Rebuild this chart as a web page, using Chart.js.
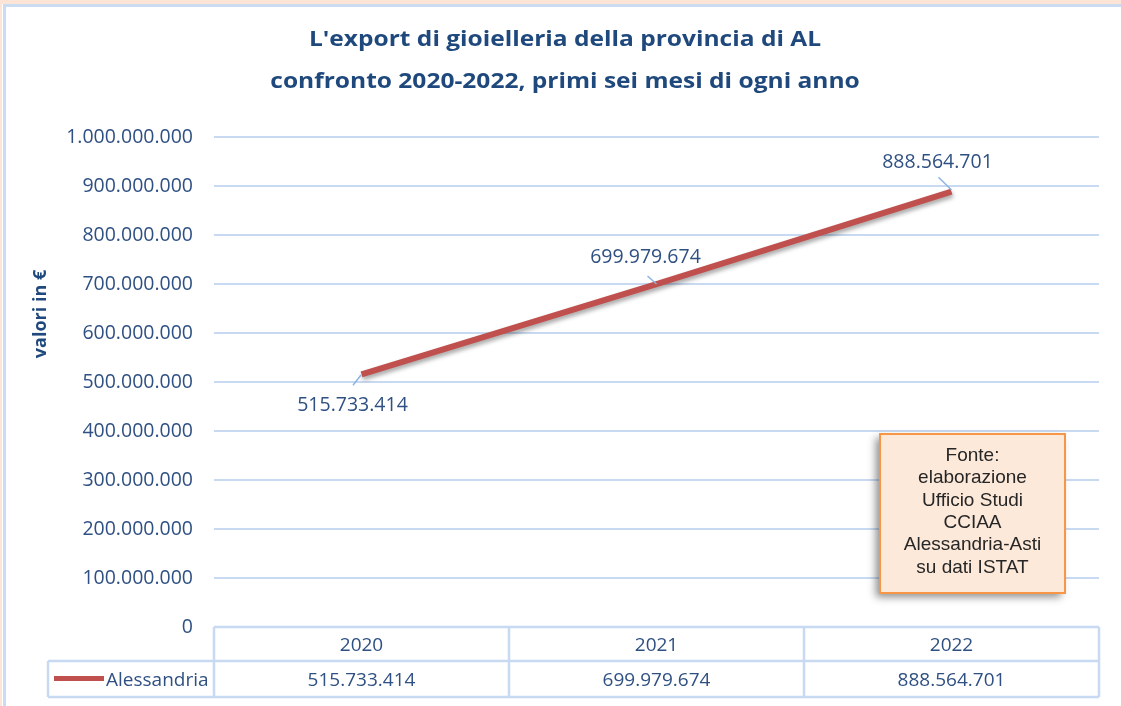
<!DOCTYPE html>
<html>
<head>
<meta charset="utf-8">
<script src="https://cdn.jsdelivr.net/npm/chart.js"></script>
<style>
html,body{margin:0;padding:0;background:#fff;overflow:hidden;}
#wrap{width:1121px;height:706px;position:relative;}
canvas{display:block;}
</style>
</head>
<body>
<div id="wrap"><canvas id="c" width="1121" height="706"></canvas></div>
<script>
// ---- data ----
const categories = ['2020', '2021', '2022'];
const seriesName = 'Alessandria';
const seriesValues = [515733414, 699979674, 888564701];
const yMin = 0;
const yMax = 1000000000;
const yStep = 100000000;
const titleLines = ["L'export di gioielleria della provincia di AL", "confronto 2020-2022, primi sei mesi di ogni anno"];
const yAxisTitle = 'valori in €';
const sourceNote = ['Fonte:', 'elaborazione', 'Ufficio Studi', 'CCIAA', 'Alessandria-Asti', 'su dati ISTAT'];

// ---- styling ----
const fmt = n => String(n).replace(/\B(?=(\d{3})+(?!\d))/g, '.');
const TITLE_COLOR = '#1F497D';
const TEXT_COLOR = '#2F5082';
const GRID_COLOR = '#C8DAF1';
const LINE_COLOR = '#C0504D';
const LEADER_COLOR = '#8DB3E2';
const TXT_FONT = '"Open Sans", "Liberation Sans", sans-serif';
// label placements relative to each point: [dx center, dy baseline, leader x1, y1, x2, y2]
const labelPlacement = [
  [-9, 37, -8.5, 11, -0.5, 0.7],
  [-11, -21, -9, -8, 0, 0],
  [-14, -23.5, -13, -14.3, 0, -1.6]
];

const decorPlugin = {
  id: 'decor',
  beforeDraw(chart) {
    const ctx = chart.ctx;
    ctx.save();
    ctx.fillStyle = '#ffffff';
    ctx.fillRect(0, 0, 1121, 706);
    ctx.fillStyle = '#FCE4D6';
    ctx.fillRect(0, 0, 1121, 4);
    ctx.fillRect(0, 0, 2, 706);
    ctx.fillStyle = '#CADCF2';
    ctx.fillRect(3, 4, 1118, 3);
    ctx.fillRect(3, 4, 3, 702);

    // title
    ctx.fillStyle = TITLE_COLOR;
    ctx.font = 'bold 22px ' + TXT_FONT;
    ctx.textAlign = 'center';
    ctx.textBaseline = 'alphabetic';
    const baselines = [46, 88];
    titleLines.forEach((t, i) => {
      ctx.save();
      ctx.translate(565, baselines[i]);
      ctx.scale(1.115, 1);
      ctx.fillText(t, 0, 0);
      ctx.restore();
    });

    // y axis title
    ctx.save();
    ctx.translate(46, 314);
    ctx.rotate(-Math.PI / 2);
    ctx.font = 'bold 18px ' + TXT_FONT;
    ctx.fillStyle = TITLE_COLOR;
    ctx.textAlign = 'center';
    ctx.textBaseline = 'alphabetic';
    ctx.fillText(yAxisTitle, 0, 0);
    ctx.restore();
    ctx.restore();
  },
  beforeDatasetDraw(chart) {
    const ctx = chart.ctx;
    ctx.save();
    ctx.shadowColor = 'rgba(0,0,0,0.35)';
    ctx.shadowBlur = 4;
    ctx.shadowOffsetX = 1;
    ctx.shadowOffsetY = 3;
  },
  afterDatasetDraw(chart) {
    chart.ctx.restore();
  },
  afterDatasetsDraw(chart) {
    const ctx = chart.ctx;
    const meta = chart.getDatasetMeta(0);
    ctx.save();
    meta.data.forEach((pt, i) => {
      const p = labelPlacement[i];
      ctx.strokeStyle = LEADER_COLOR;
      ctx.lineWidth = 1.5;
      ctx.beginPath();
      ctx.moveTo(pt.x + p[2], pt.y + p[3]);
      ctx.lineTo(pt.x + p[4], pt.y + p[5]);
      ctx.stroke();
      ctx.fillStyle = TEXT_COLOR;
      ctx.font = '19.5px ' + TXT_FONT;
      ctx.textAlign = 'center';
      ctx.textBaseline = 'alphabetic';
      ctx.fillText(fmt(seriesValues[i]), pt.x + p[0], pt.y + p[1]);
    });
    ctx.restore();
  },
  afterDraw(chart) {
    const ctx = chart.ctx;
    const xs = chart.scales.x;
    const area = chart.chartArea;
    ctx.save();
    // data table
    const top = area.bottom;
    const mid = top + 34;
    const bot = top + 70;
    const legLeft = 48;
    const n = categories.length;
    const colW = (area.right - area.left) / n;
    ctx.strokeStyle = GRID_COLOR;
    ctx.lineWidth = 2.5;
    ctx.beginPath();
    ctx.moveTo(area.left, top); ctx.lineTo(area.right, top);
    ctx.moveTo(legLeft, mid); ctx.lineTo(area.right, mid);
    ctx.moveTo(legLeft, bot); ctx.lineTo(area.right, bot);
    ctx.moveTo(legLeft, mid); ctx.lineTo(legLeft, bot);
    for (let i = 0; i <= n; i++) {
      const x = area.left + i * colW;
      ctx.moveTo(x, top); ctx.lineTo(x, bot);
    }
    ctx.stroke();

    ctx.fillStyle = TEXT_COLOR;
    ctx.font = '19px ' + TXT_FONT;
    ctx.textAlign = 'center';
    ctx.textBaseline = 'alphabetic';
    categories.forEach((c, i) => {
      const x = xs.getPixelForValue(i);
      ctx.fillText(c, x, top + 24);
      ctx.fillText(fmt(seriesValues[i]), x, mid + 25);
    });
    // legend key
    ctx.strokeStyle = LINE_COLOR;
    ctx.lineWidth = 5;
    ctx.beginPath();
    ctx.moveTo(54, mid + 17.5); ctx.lineTo(104, mid + 17.5);
    ctx.stroke();
    ctx.textAlign = 'left';
    ctx.fillText(seriesName, 106, mid + 25);

    // source note box
    const bx = 880, by = 434, bw = 185, bh = 159;
    ctx.save();
    ctx.shadowColor = 'rgba(0,0,0,0.45)';
    ctx.shadowBlur = 8;
    ctx.shadowOffsetX = -4;
    ctx.shadowOffsetY = 4;
    ctx.fillStyle = '#FDE9DA';
    ctx.fillRect(bx, by, bw, bh);
    ctx.restore();
    ctx.strokeStyle = '#F79646';
    ctx.lineWidth = 2;
    ctx.strokeRect(bx, by, bw, bh);
    ctx.fillStyle = '#262626';
    ctx.font = '19px "Liberation Sans", Arial, sans-serif';
    ctx.textAlign = 'center';
    sourceNote.forEach((t, i) => {
      ctx.fillText(t, bx + bw / 2, by + 27 + i * 22.3);
    });
    ctx.restore();
  }
};

new Chart(document.getElementById('c'), {
  type: 'line',
  data: {
    labels: categories,
    datasets: [{
      label: seriesName,
      data: seriesValues,
      borderColor: LINE_COLOR,
      backgroundColor: LINE_COLOR,
      borderWidth: 6,
      borderCapStyle: 'butt',
      pointRadius: 0,
      pointHoverRadius: 0,
      tension: 0,
      fill: false
    }]
  },
  options: {
    responsive: false,
    animation: false,
    devicePixelRatio: 1,
    layout: { padding: { top: 137, right: 22, bottom: 79, left: 0 } },
    plugins: { legend: { display: false }, title: { display: false }, tooltip: { enabled: false } },
    events: [],
    scales: {
      x: { type: 'category', display: false, offset: true },
      y: {
        min: yMin, max: yMax,
        afterFit(scale) { scale.width = 214; },
        border: { display: false },
        grid: { color: GRID_COLOR, lineWidth: 2, drawTicks: false },
        ticks: {
          stepSize: yStep,
          padding: 21,
          color: TEXT_COLOR,
          font: { family: TXT_FONT, size: 19.5 },
          callback: v => fmt(v)
        }
      }
    }
  },
  plugins: [decorPlugin]
});
</script>
</body>
</html>
